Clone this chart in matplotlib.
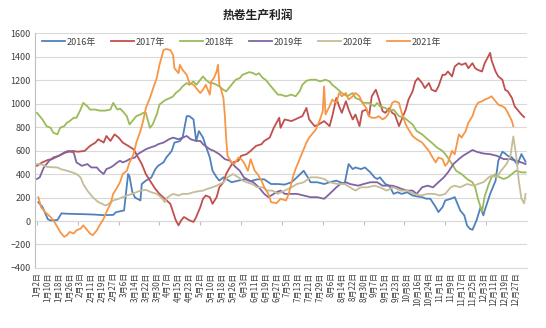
import matplotlib
matplotlib.use("Agg")
import matplotlib.pyplot as plt

plt.rcParams['font.family'] = ['Noto Sans CJK SC', 'DejaVu Sans']

title = "热卷生产利润"
tick_labels = ["1月2日", "1月10日", "1月18日", "1月26日", "2月3日", "2月11日", "2月19日", "2月27日",
               "3月6日", "3月14日", "3月22日", "3月30日", "4月7日", "4月15日", "4月23日", "5月2日",
               "5月10日", "5月18日", "5月26日", "6月3日", "6月11日", "6月19日", "6月27日", "7月5日",
               "7月13日", "7月21日", "7月29日", "8月6日", "8月14日", "8月22日", "8月30日", "9月7日",
               "9月15日", "9月23日", "10月8日", "10月16日", "10月24日", "11月1日", "11月9日", "11月17日",
               "11月25日", "12月3日", "12月11日", "12月19日", "12月27日"]
series_names = ["2016年", "2017年", "2018年", "2019年", "2020年", "2021年"]

d2016 = [1,4,8,10,15,18,22,28,35,42,48,56,58,62,64,66,67,68,70,72,76,77,80,84,87,89,93,95,99,101,105,107,110,112,115,117,119,122,124,127,129,132,134,137,143,148,153,157,162,167,172,177,182,187,191,196,199,201,206,211,215,220,226,229,232,234,238,241,245,248,250,252,256,259,262,265,268,272,276,279,283,286,289,293,295,298,300,304,307,311,314,316,318,320,323,326,328,329,333,337,339,342,344,346,349,351,353,356,359]
v2016 = [160,120,15,5,8,65,62,60,58,55,50,52,75,85,90,300,400,380,250,200,175,315,344,370,442,470,500,540,597,668,680,710,893,893,865,682,766,710,640,541,428,372,344,372,330,344,355,340,355,355,315,315,310,330,372,428,372,330,330,315,330,344,315,485,442,456,442,456,414,372,358,372,315,300,231,245,231,245,217,210,203,190,190,118,76,118,175,189,203,90,48,-37,-65,-75,6,118,48,90,231,344,513,590,575,555,541,513,480,570,505]

d2017 = [0,4,8,11,16,21,26,30,35,39,43,45,49,51,54,57,60,63,67,71,73,77,80,83,87,90,94,98,100,102,104,106,108,112,115,117,120,122,124,127,129,132,134,137,139,141,144,148,150,154,157,161,165,167,171,174,178,179,182,187,191,195,198,200,204,207,211,215,217,220,222,224,227,229,232,234,237,239,242,244,246,249,251,254,256,259,261,263,266,268,271,273,276,278,280,283,285,288,290,293,295,298,300,302,305,307,310,312,315,317,320,322,324,327,329,333,334,337,339,342,344,346,349,351,354,356,358]
v2017 = [470,500,520,527,555,583,597,590,597,640,668,696,668,724,682,738,710,668,640,611,569,485,400,344,273,231,189,146,76,6,-37,6,34,6,-8,34,118,189,217,203,146,203,287,330,400,442,499,513,555,569,597,640,654,682,710,794,879,794,865,851,872,893,963,865,808,822,851,808,893,1048,977,921,1020,949,865,907,808,935,949,893,1062,1118,1048,935,921,963,921,907,808,865,949,1034,1104,1189,1217,1175,1132,1175,1118,1104,1146,1245,1245,1273,1231,1316,1344,1330,1344,1301,1344,1301,1287,1273,1344,1432,1370,1273,1231,1203,1118,1104,1048,977,935,907,885]

d2018 = [0,4,7,10,12,15,17,20,22,24,27,29,32,34,37,39,43,46,50,54,56,59,61,63,66,68,71,73,76,78,80,83,85,88,90,93,95,98,100,102,105,107,110,112,115,117,120,122,124,127,129,132,134,137,139,142,144,146,149,151,154,156,159,161,163,166,168,171,173,177,179,183,187,190,193,195,198,201,205,208,212,215,217,220,224,226,228,232,234,237,240,244,248,250,252,256,259,262,266,270,273,276,279,283,287,290,294,298,301,305,308,312,316,320,322,324,327,329,332,334,337,340,343,346,349,352,356,359]
v2018 = [921,865,808,794,752,738,794,808,837,851,879,879,949,1006,977,949,949,940,940,949,1006,949,957,935,893,822,865,893,907,921,921,794,822,907,991,1020,1034,1048,1062,1090,1118,1146,1175,1160,1189,1160,1203,1231,1203,1175,1175,1160,1146,1118,1104,1146,1175,1203,1217,1245,1259,1268,1259,1245,1259,1217,1203,1160,1132,1076,1076,1062,1076,1062,1104,1160,1194,1203,1203,1189,1203,1189,1160,1132,1090,1076,1062,1090,1048,1034,1006,1006,977,1006,977,963,935,949,893,879,851,822,766,738,696,668,625,597,555,485,428,400,358,330,287,190,80,210,315,372,400,372,358,372,400,428,414,414]

d2019 = [0,2,5,9,12,16,20,23,27,29,33,37,40,44,46,49,51,54,56,59,61,63,66,68,72,74,78,80,83,87,89,93,97,100,104,107,110,113,117,120,122,127,130,134,138,142,145,149,152,156,159,163,167,170,172,176,179,182,187,191,196,201,206,211,215,220,223,227,230,236,240,245,250,254,257,261,265,268,272,276,279,283,287,291,295,299,302,306,310,313,317,320,323,328,333,338,343,348,352,356,359]
v2019 = [358,372,456,513,541,555,583,597,583,499,470,485,456,456,428,400,442,456,470,499,513,499,513,527,541,569,597,611,625,640,654,668,696,710,696,710,724,696,682,682,654,611,597,569,527,513,470,428,372,344,330,287,231,203,217,245,259,231,231,231,217,203,203,189,231,287,315,330,315,301,315,330,330,301,301,301,287,273,259,259,231,287,301,287,330,372,414,485,527,555,583,605,590,575,569,555,527,527,513,499,485]

d2020 = [0,4,7,11,15,18,22,26,29,32,34,37,39,41,45,48,50,52,56,60,63,66,70,73,76,80,84,88,91,94,96,100,104,107,111,115,118,122,125,129,132,137,140,144,148,151,154,158,162,166,169,173,177,182,187,191,196,201,206,211,215,221,226,230,234,238,243,248,252,257,262,267,272,277,282,287,292,296,300,304,307,311,316,321,324,328,332,334,338,341,345,348,350,352,354,356,358,359]
v2020 = [485,480,462,458,456,440,428,414,400,372,315,259,231,203,161,146,132,140,175,189,203,217,231,245,259,265,245,231,203,161,203,231,217,231,231,245,252,259,273,287,301,330,372,400,372,344,330,315,287,287,259,259,231,259,287,315,330,372,372,358,330,315,315,287,259,287,287,301,287,259,287,259,259,231,217,231,231,217,231,287,301,287,315,301,315,330,372,385,372,428,485,560,720,569,344,190,150,231]

d2021 = [1,3,6,10,12,15,17,20,22,24,27,29,32,34,37,39,41,44,46,49,51,54,56,59,61,63,66,68,71,73,76,78,80,83,85,88,90,93,95,98,100,101,104,105,107,110,112,115,117,120,122,124,127,128,130,132,133,134,135,137,138,139,140,143,145,148,150,152,155,157,160,162,165,167,170,172,176,179,183,185,188,190,193,195,198,200,202,205,208,210,211,212,215,217,220,222,224,227,229,232,234,237,239,242,244,246,249,251,254,256,258,261,263,266,268,271,273,276,279,283,285,288,290,293,295,298,300,302,305,307,310,312,315,317,320,322,324,327,329,332,334,337,339,342,344,346,349,350]
v2021 = [203,118,76,34,6,-51,-93,-135,-121,-93,-107,-79,-65,-37,-79,-107,-121,-79,-37,20,76,146,231,287,330,400,428,499,569,668,766,851,963,1048,1118,1217,1330,1456,1465,1456,1414,1301,1259,1330,1287,1245,1175,1160,1132,1090,1118,1160,1076,1189,1217,1273,1330,1160,1132,1048,907,710,555,499,485,541,527,499,428,527,428,400,344,287,231,161,152,189,175,231,372,442,527,583,668,710,738,780,865,935,1146,907,977,1034,1006,1090,1062,1090,1034,1062,1090,1062,1006,963,893,879,879,893,865,879,907,1006,1020,1006,921,822,780,724,696,668,640,597,555,499,541,527,470,499,597,569,738,710,766,837,893,963,1006,1020,1034,1048,1062,1020,991,977,963,921,851,808]

days = [d2016, d2017, d2018, d2019, d2020, d2021]
values = [v2016, v2017, v2018, v2019, v2020, v2021]
colors = ["#4F81BD", "#C0504D", "#9BBB59", "#8064A2", "#C4BD97", "#F79646"]

fig = plt.figure(figsize=(5.46, 3.28), dpi=100)
ax = fig.add_axes([0.064, 0.183, 0.901, 0.716])

for d, v, c, n in zip(days, values, colors, series_names):
    ax.plot(d, v, color=c, lw=1.3, label=n, solid_joinstyle='round')

ax.set_xlim(-1.5, 360)
ax.set_ylim(-400, 1600)
ax.set_yticks(range(-400, 1601, 200))
ax.yaxis.grid(True, color="#D9D9D9", lw=0.8)
ax.set_axisbelow(True)
ax.tick_params(axis='y', length=0, labelsize=6.5, labelcolor="#404040", pad=3)

ax.set_xticks(range(0, 8 * len(tick_labels), 8))
ax.set_xticklabels(tick_labels, rotation=90, fontsize=5.8, color="#404040")
ax.tick_params(axis='x', length=0, pad=3)

for s in ['top', 'right']:
    ax.spines[s].set_visible(False)
ax.spines['left'].set_color("#BFBFBF")
ax.spines['bottom'].set_color("#D9D9D9")

sec = ax.secondary_xaxis(0.2)
sec.set_xticks(range(0, 360, 30))
sec.tick_params(axis='x', length=3, color="#BFBFBF", labelbottom=False)
sec.spines['bottom'].set_color("#D9D9D9")
sec.spines['bottom'].set_linewidth(0.8)

fig.text(0.473, 0.955, title, ha='center', va='center', fontsize=8.5, fontweight='bold', color="#222222")

ax.legend(loc='center', bbox_to_anchor=(0.42, 0.962), ncol=6, frameon=False,
          fontsize=6.5, handlelength=2.6, handletextpad=0.2, columnspacing=1.6,
          labelcolor="#404040")

fig.savefig("out.png", dpi=100)
